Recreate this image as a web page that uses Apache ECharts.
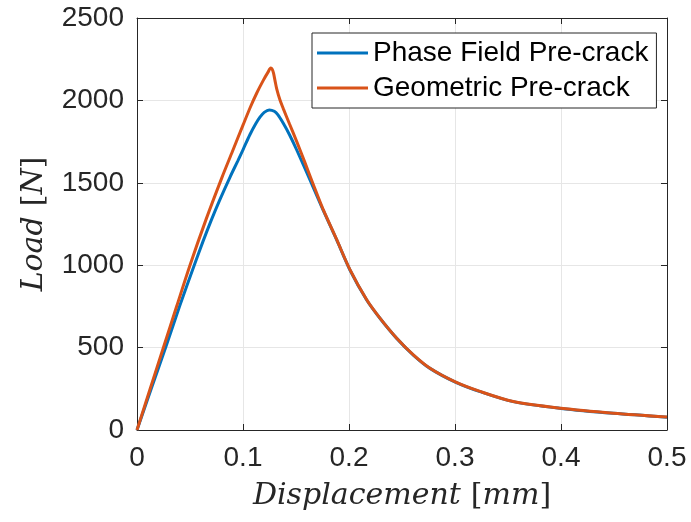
<!DOCTYPE html>
<html>
<head>
<meta charset="utf-8">
<script src="https://cdn.jsdelivr.net/npm/echarts@6/dist/echarts.min.js"></script>
<style>html,body{margin:0;padding:0;background:#fff;}#c{width:691px;height:522px;}</style>
</head>
<body>
<div id="c"></div>
<script>
// Data
const seriesNames = ['Phase Field Pre-crack', 'Geometric Pre-crack'];
const xTicks = [0, 0.1, 0.2, 0.3, 0.4, 0.5];
const yTicks = [0, 500, 1000, 1500, 2000, 2500];

const phaseFieldX = [0, 0.0135, 0.027, 0.04, 0.054, 0.062, 0.07, 0.078, 0.088, 0.095, 0.1003, 0.1066, 0.112, 0.116, 0.12, 0.1248, 0.1295, 0.133, 0.138, 0.144, 0.1507, 0.1632, 0.1755, 0.1884, 0.2009, 0.2167, 0.2292, 0.245, 0.2607, 0.2764, 0.3003, 0.3236, 0.355, 0.4, 0.4494, 0.5];
const phaseFieldY = [0, 252, 500, 748, 1000, 1140, 1272, 1395, 1538, 1632, 1705, 1793, 1858, 1898, 1927, 1942, 1934, 1912, 1861, 1790, 1699, 1517, 1335, 1153, 971, 789, 678, 556, 455, 374, 291, 233, 172, 131, 101, 78];

const geometricX = [0, 0.0125, 0.025, 0.0375, 0.05, 0.065, 0.08, 0.09, 0.1, 0.107, 0.113, 0.119, 0.1235, 0.1262, 0.1275, 0.1288, 0.1302, 0.1318, 0.1349, 0.138, 0.144, 0.1507, 0.158, 0.1663, 0.1755, 0.1884, 0.2009, 0.2167, 0.2292, 0.245, 0.2607, 0.2764, 0.3003, 0.3236, 0.355, 0.4, 0.4494, 0.5];
const geometricY = [0, 252, 502, 752, 1000, 1275, 1530, 1690, 1850, 1960, 2045, 2120, 2170, 2196, 2190, 2165, 2120, 2070, 2002, 1950, 1855, 1750, 1630, 1490, 1340, 1155, 973, 790, 679, 557, 456, 375, 292, 234, 173, 132, 102, 79];

const zip = (xs, ys) => xs.map((x, i) => [x, ys[i]]);

const axisColor = '#262626';
const tickFont = 'Liberation Sans, Arial, Helvetica, sans-serif';
const serif = 'DejaVu Serif, Liberation Serif, serif';
const chart = echarts.init(document.getElementById('c'), null, {renderer: 'canvas'});

const baseX = {
  type: 'value', min: xTicks[0], max: xTicks[xTicks.length - 1], interval: 0.1,
  axisLine: {show: true, onZero: false, lineStyle: {color: axisColor, width: 1}},
  axisTick: {show: true, inside: true, length: 6, lineStyle: {color: axisColor}},
};
const baseY = {
  type: 'value', min: yTicks[0], max: yTicks[yTicks.length - 1], interval: 500,
  axisLine: {show: true, onZero: false, lineStyle: {color: axisColor, width: 1}},
  axisTick: {show: true, inside: true, length: 6, lineStyle: {color: axisColor}},
};
const nameRich = {
  i: {fontFamily: serif, fontStyle: 'italic', fontSize: 30, color: axisColor},
  u: {fontFamily: serif, fontSize: 30, color: axisColor},
  s: {fontFamily: serif, fontSize: 30, width: 10}
};

chart.setOption({
  animation: false,
  backgroundColor: '#ffffff',
  grid: {left: 137, right: 24, top: 18, bottom: 92, containLabel: false},
  xAxis: [
    Object.assign({}, baseX, {
      position: 'bottom',
      axisLabel: {show: true, color: axisColor, fontSize: 28, fontFamily: tickFont, margin: 14,
        formatter: v => String(v)},
      splitLine: {show: true, lineStyle: {color: '#e6e6e6', width: 1}},
      name: '{i|Displacement}{s|}{u|[}{i|mm}{u|]}',
      nameLocation: 'middle', nameGap: 51,
      nameTextStyle: {rich: nameRich}
    }),
    Object.assign({}, baseX, {position: 'top', axisLabel: {show: false}, splitLine: {show: false}})
  ],
  yAxis: [
    Object.assign({}, baseY, {
      position: 'left',
      axisLabel: {show: true, color: axisColor, fontSize: 28, fontFamily: tickFont, margin: 13,
        formatter: v => String(v)},
      splitLine: {show: true, lineStyle: {color: '#e6e6e6', width: 1}},
      name: '{i|Load}{s|}{u|[}{i|N}{u|]}',
      nameLocation: 'middle', nameGap: 88,
      nameTextStyle: {rich: nameRich}
    }),
    Object.assign({}, baseY, {position: 'right', axisLabel: {show: false}, splitLine: {show: false}})
  ],
  legend: {
    show: true, orient: 'vertical', left: 312, top: 33,
    padding: [5, 8, 5, 5],
    itemWidth: 51, itemHeight: 3, itemGap: 5, icon: 'rect',
    borderColor: axisColor, borderWidth: 1, backgroundColor: '#ffffff',
    textStyle: {fontSize: 28, fontFamily: tickFont, color: '#000', lineHeight: 30},
    data: seriesNames
  },
  series: [
    {
      name: seriesNames[0], type: 'line', data: zip(phaseFieldX, phaseFieldY),
      showSymbol: false, symbol: 'none', smooth: 0.3, clip: true,
      lineStyle: {color: '#0072BD', width: 3}, itemStyle: {color: '#0072BD'}
    },
    {
      name: seriesNames[1], type: 'line', data: zip(geometricX, geometricY),
      showSymbol: false, symbol: 'none', smooth: 0.3, clip: true,
      lineStyle: {color: '#D95319', width: 3}, itemStyle: {color: '#D95319'}
    }
  ]
});
</script>
</body>
</html>
